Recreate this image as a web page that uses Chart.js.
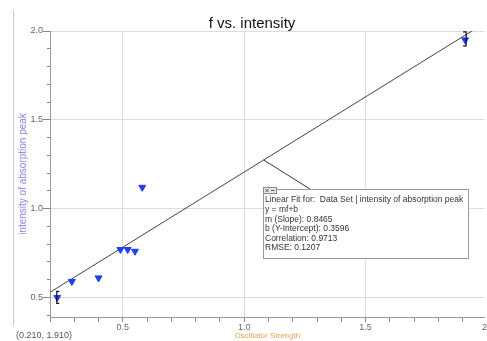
<!DOCTYPE html>
<html>
<head>
<meta charset="utf-8">
<script src="https://cdn.jsdelivr.net/npm/chart.js@4/dist/chart.umd.min.js"></script>
<style>
  html, body { margin: 0; padding: 0; background: #fff; }
  #wrap { position: relative; width: 487px; height: 341px; overflow: hidden; }
</style>
</head>
<body>
<div id="wrap"><canvas id="grafico" width="487" height="341"></canvas></div>
<script>
/* f vs. intensity: pontos medidos + ajuste linear (estilo Logger Pro) */

const forca = [0.23, 0.29, 0.40, 0.49, 0.52, 0.55, 0.58, 1.91];
const intensidade = [0.50, 0.59, 0.61, 0.77, 0.77, 0.76, 1.12, 1.95];

const xTicks = [0.2, 0.3, 0.4, 0.5, 0.6, 0.7, 0.8, 0.9, 1.0, 1.1,
                1.2, 1.3, 1.4, 1.5, 1.6, 1.7, 1.8, 1.9, 2.0];
const xMajor = [0.5, 1.0, 1.5, 2.0];
const xLabels = ["0.5", "1.0", "1.5", "2"];
const yTicks = [0.4, 0.5, 0.6, 0.7, 0.8, 0.9, 1.0, 1.1, 1.2, 1.3,
                1.4, 1.5, 1.6, 1.7, 1.8, 1.9, 2.0];
const yMajor = [0.5, 1.0, 1.5, 2.0];
const yLabels = ["0.5", "1.0", "1.5", "2.0"];

const slope = 0.8465;
const intercept = 0.3596;
const fitRange = [0.2, 2.0];
const fitAncora = 1.08;   // onde a caixa do ajuste se liga à reta

const fitTexto = [
  "Linear Fit for:  Data Set | intensity of absorption peak",
  "y = mf+b",
  "m (Slope): 0.8465",
  "b (Y-Intercept): 0.3596",
  "Correlation: 0.9713",
  "RMSE: 0.1207",
];
const titulo = "f vs. intensity";
const cursor = "(0.210, 1.910)";

const FONTE = '"Liberation Sans", Arial, sans-serif';

const ehMaior = (v, lista) => lista.some(m => Math.abs(m - v) < 1e-6);
const rotulo = (v, lista, nomes) => {
  const i = lista.findIndex(m => Math.abs(m - v) < 1e-6);
  return i >= 0 ? nomes[i] : "";
};

const extras = {
  id: "extras",
  afterDatasetsDraw(chart) {
    const { ctx } = chart;
    const xs = chart.scales.x, ys = chart.scales.y;
    ctx.save();

    // colchetes da faixa do ajuste (primeiro e último ponto)
    ctx.strokeStyle = "#111";
    ctx.lineWidth = 1.2;
    const pa = [xs.getPixelForValue(forca[0]), ys.getPixelForValue(intensidade[0])];
    const n = forca.length - 1;
    const pb = [xs.getPixelForValue(forca[n]), ys.getPixelForValue(intensidade[n])];
    ctx.beginPath();
    ctx.moveTo(pa[0] + 2, pa[1] - 6); ctx.lineTo(pa[0] - 0.5, pa[1] - 6);
    ctx.lineTo(pa[0] - 0.5, pa[1] + 6); ctx.lineTo(pa[0] + 2, pa[1] + 6);
    ctx.moveTo(pb[0] - 2, pb[1] - 8); ctx.lineTo(pb[0] + 1, pb[1] - 8);
    ctx.lineTo(pb[0] + 1, pb[1] + 6); ctx.lineTo(pb[0] - 2, pb[1] + 6);
    ctx.stroke();
    ctx.restore();
  },
  afterDraw(chart) {
    const { ctx } = chart;
    const xs = chart.scales.x, ys = chart.scales.y;
    ctx.save();

    // moldura lateral esquerda
    ctx.strokeStyle = "#cfcfcf";
    ctx.lineWidth = 1;
    ctx.beginPath();
    ctx.moveTo(13.5, 10); ctx.lineTo(13.5, 326);
    ctx.stroke();

    // título
    ctx.fillStyle = "#111";
    ctx.font = "15px " + FONTE;
    ctx.textAlign = "center";
    ctx.textBaseline = "alphabetic";
    ctx.fillText(titulo, 252, 28);

    // coordenadas do cursor
    ctx.fillStyle = "#555";
    ctx.font = "9px " + FONTE;
    ctx.textAlign = "left";
    ctx.textBaseline = "middle";
    ctx.fillText(cursor, 16, 336);

    // ligação da reta até a caixa
    const ax = xs.getPixelForValue(fitAncora);
    const ay = ys.getPixelForValue(slope * fitAncora + intercept);
    ctx.strokeStyle = "#333";
    ctx.beginPath();
    ctx.moveTo(ax, ay); ctx.lineTo(310, 189);
    ctx.stroke();

    // caixa do ajuste
    ctx.fillStyle = "#fff";
    ctx.fillRect(263.5, 189.5, 205, 69);
    ctx.strokeStyle = "#999";
    ctx.strokeRect(263.5, 189.5, 205, 69);
    ctx.fillStyle = "#e6e6e6";
    ctx.fillRect(263.5, 187.5, 13, 6);
    ctx.strokeStyle = "#888";
    ctx.strokeRect(263.5, 187.5, 13, 6);
    ctx.strokeStyle = "#555";
    ctx.beginPath();
    ctx.moveTo(265.5, 189); ctx.lineTo(268.5, 192);
    ctx.moveTo(268.5, 189); ctx.lineTo(265.5, 192);
    ctx.moveTo(271, 190.5); ctx.lineTo(274.5, 190.5);
    ctx.stroke();

    ctx.fillStyle = "#333";
    ctx.font = "8.5px " + FONTE;
    ctx.textAlign = "left";
    ctx.textBaseline = "middle";
    fitTexto.forEach((linha, i) => ctx.fillText(linha, 265, 200 + i * 9.6));
    ctx.restore();
  },
};

new Chart(document.getElementById("grafico"), {
  type: "scatter",
  data: {
    datasets: [
      {
        label: "intensity of absorption peak",
        data: forca.map((f, i) => ({ x: f, y: intensidade[i] })),
        pointStyle: "triangle",
        rotation: 180,
        radius: 4,
        backgroundColor: "#1f3dff",
        borderColor: "#1f3dff",
        borderWidth: 1,
      },
      {
        type: "line",
        label: "Linear Fit",
        data: fitRange.map(f => ({ x: f, y: slope * f + intercept })),
        borderColor: "#444",
        borderWidth: 1,
        pointRadius: 0,
        fill: false,
      },
    ],
  },
  options: {
    responsive: false,
    animation: false,
    devicePixelRatio: 1,
    layout: { autoPadding: false, padding: { top: 31, left: 0, right: 0, bottom: 0 } },
    plugins: {
      legend: { display: false },
      tooltip: { enabled: false },
    },
    scales: {
      x: {
        type: "linear",
        min: 0.2,
        max: 1.99,
        afterBuildTicks: s => { s.ticks = xTicks.map(v => ({ value: v })); },
        afterFit: s => { s.height = 24; },
        border: { color: "#999" },
        grid: {
          color: c => (c.tick && ehMaior(c.tick.value, xMajor) ? "#dcdcdc" : "rgba(0,0,0,0)"),
          tickColor: "#888",
          tickLength: 5,
        },
        ticks: {
          autoSkip: false,
          maxRotation: 0,
          align: "inner",
          padding: 0,
          color: "#666",
          font: { family: FONTE, size: 9 },
          callback: v => rotulo(v, xMajor, xLabels),
        },
        title: {
          display: true,
          text: "Oscillator Strength",
          color: "#f5a04a",
          font: { family: FONTE, size: 8 },
          padding: { top: 0, bottom: 0 },
        },
      },
      y: {
        type: "linear",
        min: 0.39,
        max: 2.0,
        afterBuildTicks: s => { s.ticks = yTicks.map(v => ({ value: v })); },
        afterFit: s => { s.width = 50; },
        border: { color: "#999" },
        grid: {
          color: c => (c.tick && ehMaior(c.tick.value, yMajor) ? "#dcdcdc" : "rgba(0,0,0,0)"),
          tickColor: "#888",
          tickLength: 7,
          tickBorderDash: c => (c.tick && ehMaior(c.tick.value, yMajor) ? [] : [0, 4, 3, 0]),
        },
        ticks: {
          autoSkip: false,
          padding: 0,
          color: "#666",
          font: { family: FONTE, size: 9 },
          callback: v => rotulo(v, yMajor, yLabels),
        },
        title: {
          display: true,
          text: "intensity of absorption peak",
          color: "#8585f5",
          font: { family: FONTE, size: 10 },
          padding: { top: 17, bottom: 0 },
        },
      },
    },
  },
  plugins: [extras],
});
</script>
</body>
</html>
